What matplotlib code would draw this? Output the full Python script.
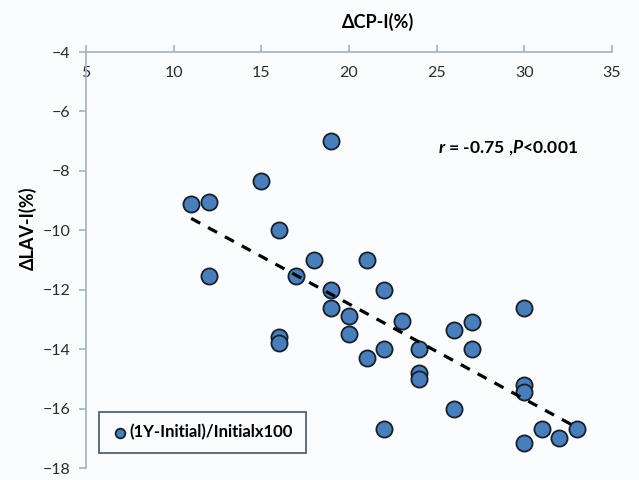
#!/usr/bin/env python3
"""
plot.py – scatter of ΔCP-I vs ΔLAV-I with linear trend line, saved as out.png
"""
import matplotlib
matplotlib.use("Agg")
import matplotlib.pyplot as plt

# change in CP-I (%) per patient
delta_cp = [19, 15, 11, 12, 16, 12, 18, 17, 19, 19, 20, 21, 22, 23, 20, 16, 16,
            22, 21, 24, 24, 24, 22, 30, 27, 26, 27, 30, 30, 26, 31, 32, 33, 30]
# change in LAV-I (%) per patient
delta_lav = [-7.0, -8.35, -9.1, -9.05, -10.0, -11.55, -11.0, -11.55, -12.0, -12.6,
             -12.9, -11.0, -12.0, -13.05, -13.5, -13.6, -13.8, -14.0, -14.3, -14.0,
             -14.8, -15.0, -16.7, -12.6, -13.1, -13.35, -14.0, -15.2, -15.45, -16.0,
             -16.7, -17.0, -16.7, -17.15]

# trend line end points
trend_x = [11.0, 33.07]
trend_y = [-9.6, -16.66]

x_ticks = [5, 10, 15, 20, 25, 30, 35]
y_ticks = [-18, -16, -14, -12, -10, -8, -6, -4]

series_label = "(1Y-Initial)/Initialx100"
stat_text = "$r$ = -0.75 ,$P$<0.001"

AXIS_COL = "#9fb4c7"
BG = "#fbfcfe"

plt.rcParams["font.family"] = ["Lato", "DejaVu Sans"]
plt.rcParams["mathtext.fontset"] = "custom"
plt.rcParams["mathtext.it"] = "Lato:italic:bold"
plt.rcParams["mathtext.rm"] = "Lato:bold"


def main() -> None:
    fig = plt.figure(figsize=(6.39, 4.8), dpi=100, facecolor=BG)
    ax = fig.add_axes([86 / 639, 1 - 468 / 480, 526 / 639, 416 / 480])
    ax.set_facecolor(BG)

    ax.scatter(delta_cp, delta_lav, s=135, color="#4a7ebb", edgecolor="#15202c",
               linewidth=1.3, zorder=3, clip_on=False, label=series_label)
    ax.plot(trend_x, trend_y, color="black", lw=2.3, linestyle=(0, (3.2, 2.8)),
            zorder=4)

    ax.set_xlim(5, 35)
    ax.set_ylim(-18, -4)
    ax.set_xticks(x_ticks)
    ax.set_yticks(y_ticks)

    # x axis sits on the top edge (y = -4), labels hang below it
    ax.spines["bottom"].set_position(("data", -4))
    ax.spines["top"].set_visible(False)
    ax.spines["right"].set_visible(False)
    for side in ("bottom", "left"):
        ax.spines[side].set_color(AXIS_COL)
        ax.spines[side].set_linewidth(1.2)

    ax.tick_params(axis="x", direction="in", length=5, width=1.2, color=AXIS_COL,
                   pad=10, labelsize=11.5, labelcolor="#2b2b2b")
    ax.tick_params(axis="y", direction="out", length=5, width=1.2, color=AXIS_COL,
                   pad=6, labelsize=11.5, labelcolor="#2b2b2b")

    fig.text(378 / 639, 1 - 22 / 480, "ΔCP-I(%)", ha="center", va="center",
             fontsize=13, fontweight="bold")
    fig.text(28 / 639, 1 - 228 / 480, "ΔLAV-I(%)", ha="center", va="center",
             rotation=90, fontsize=13, fontweight="bold")

    fig.text(438 / 639, 1 - 148 / 480, stat_text, ha="left", va="center",
             fontsize=12.6, fontweight="bold")

    leg = ax.legend(loc="lower left", bbox_to_anchor=(0.0247, 0.036),
                    borderaxespad=0, fancybox=False, framealpha=1,
                    edgecolor="#4d6475", markerscale=0.6, handletextpad=0.1,
                    handlelength=1.0, borderpad=0.75,
                    prop={"weight": "bold", "size": 12})
    leg.get_frame().set_linewidth(1.3)
    leg.get_frame().set_facecolor(BG)

    fig.savefig("out.png", dpi=100, facecolor=BG)
    plt.close(fig)


if __name__ == "__main__":
    main()
